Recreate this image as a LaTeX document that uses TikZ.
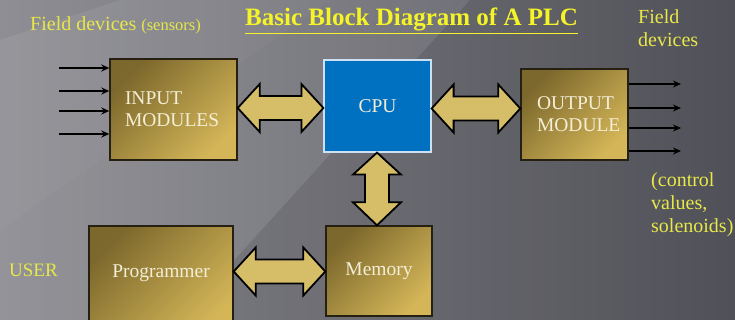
\documentclass[tikz,border=0pt]{standalone}
\usepackage{fontspec}
\setmainfont{Liberation Serif}
\usetikzlibrary{calc,arrows.meta}

\definecolor{bgleft}{RGB}{142,142,148}
\definecolor{bgright}{RGB}{86,86,94}
\definecolor{labelyellow}{RGB}{232,232,72}
\definecolor{titleyellow}{RGB}{244,244,40}
\definecolor{golddark}{RGB}{124,104,44}
\definecolor{goldlight}{RGB}{212,182,88}
\definecolor{goldedge}{RGB}{38,32,18}
\definecolor{cpublue}{RGB}{0,112,192}
\definecolor{cpuedge}{RGB}{205,225,245}
\definecolor{boxtext}{RGB}{244,238,214}
\definecolor{busfill}{RGB}{214,190,104}

\tikzset{
  goldbox/.style={draw=goldedge, line width=1.4pt, left color=golddark,
    right color=goldlight, shading angle=45, inner sep=0pt,
    text=boxtext, font=\fontsize{19.5}{22}\selectfont},
  cpubox/.style={draw=cpuedge, line width=1.2pt, fill=cpublue, inner sep=0pt,
    text=boxtext, font=\fontsize{19.5}{22}\selectfont},
  caption/.style={text=labelyellow, font=\fontsize{20}{23}\selectfont, inner sep=0pt},
  busarrow/.style={fill=busfill, draw=black, line width=1.8pt, line join=miter},
  signal/.style={draw=black, line width=2pt, -{Stealth[length=8pt,width=7pt]}}
}

% horizontal two-way bus between two points (left tip, right tip)
\newcommand\hbus[2]{%
  \draw[busarrow] let \p1=#1, \p2=#2 in
    (\x1,\y1) -- (\x1+22pt,\y1+24pt) -- (\x1+22pt,\y1+12pt) --
    (\x2-22pt,\y1+12pt) -- (\x2-22pt,\y1+24pt) -- (\x2,\y1) --
    (\x2-22pt,\y1-24pt) -- (\x2-22pt,\y1-12pt) -- (\x1+22pt,\y1-12pt) --
    (\x1+22pt,\y1-24pt) -- cycle;}
% vertical two-way bus between two points (top tip, bottom tip)
\newcommand\vbus[2]{%
  \draw[busarrow] let \p1=#1, \p2=#2 in
    (\x1,\y1) -- (\x1+24pt,\y1-22pt) -- (\x1+12pt,\y1-22pt) --
    (\x1+12pt,\y2+23pt) -- (\x1+24pt,\y2+23pt) -- (\x1,\y2) --
    (\x1-24pt,\y2+23pt) -- (\x1-12pt,\y2+23pt) -- (\x1-12pt,\y1-22pt) --
    (\x1-24pt,\y1-22pt) -- cycle;}

\begin{document}
\begin{tikzpicture}[x=1pt,y=1pt]
  \useasboundingbox (0,0) rectangle (735,-320);
  \clip (0,0) rectangle (735,-320);

  % slide background
  \shade[left color=bgleft, right color=bgright] (0,0) rectangle (735,-320);
  \fill[white, opacity=0.07] (0,-40) -- (120,0) -- (330,0) -- (0,-230) -- cycle;
  \fill[white, opacity=0.05] (0,-230) -- (330,0) -- (470,0) -- (180,-320) -- (0,-320) -- cycle;
  \fill[black, opacity=0.06] (470,0) -- (735,0) -- (735,-320) -- (180,-320) -- cycle;

  % title and captions
  \node[text=titleyellow, font=\bfseries\fontsize{25}{28}\selectfont, inner sep=0pt]
    (title) at (411.5,-19) {Basic Block Diagram of A PLC};
  \draw[titleyellow, line width=1.3pt] ([yshift=-3pt]title.south west) -- ([yshift=-3pt]title.south east);

  \node[caption, anchor=west] (sensors) at (30,-25)
    {Field devices {\fontsize{16.5}{19}\selectfont(sensors)}};
  \node[caption, anchor=north west, align=left] (fieldout) at (638,-9) {Field\\devices};
  \node[caption, anchor=north west, align=left] (actuators) at (651,-172)
    {(control\\values,\\solenoids)};
  \node[caption, anchor=west, font=\fontsize{19}{22}\selectfont] (user) at (9,-270) {USER};

  % blocks
  \node[goldbox, minimum width=127, minimum height=101, align=left, text width=97]
    (inp) at (173.5,-109.5) {INPUT\\MODULES};
  \node[cpubox, minimum width=107, minimum height=92] (cpu) at (377.5,-106) {CPU};
  \node[goldbox, minimum width=107, minimum height=91, align=left, text width=75]
    (outp) at (574.5,-114.5) {OUTPUT\\MODULE};
  \node[goldbox, minimum width=106, minimum height=90] (mem) at (379,-271) {Memory};
  \node[goldbox, minimum width=144, minimum height=110, text height=7pt, text depth=14pt]
    (prog) at (161,-281) {Programmer};

  % field signals
  \foreach \yy in {-68,-91,-111,-134}
    \draw[signal] (59,\yy) -- (inp.west |- 0,\yy);
  \foreach \yy in {-84,-108,-128,-151}
    \draw[signal] (outp.east |- 0,\yy) -- (681,\yy);

  % internal buses
  \hbus{(inp.east |- 0,-108)}{(cpu.west |- 0,-108)}
  \hbus{(cpu.east |- 0,-108.5)}{(outp.west |- 0,-108.5)}
  \vbus{(cpu.south -| 377,0)}{(mem.north -| 377,0)}
  \hbus{(prog.east |- 0,-271.5)}{(mem.west |- 0,-271.5)}
\end{tikzpicture}
\end{document}
